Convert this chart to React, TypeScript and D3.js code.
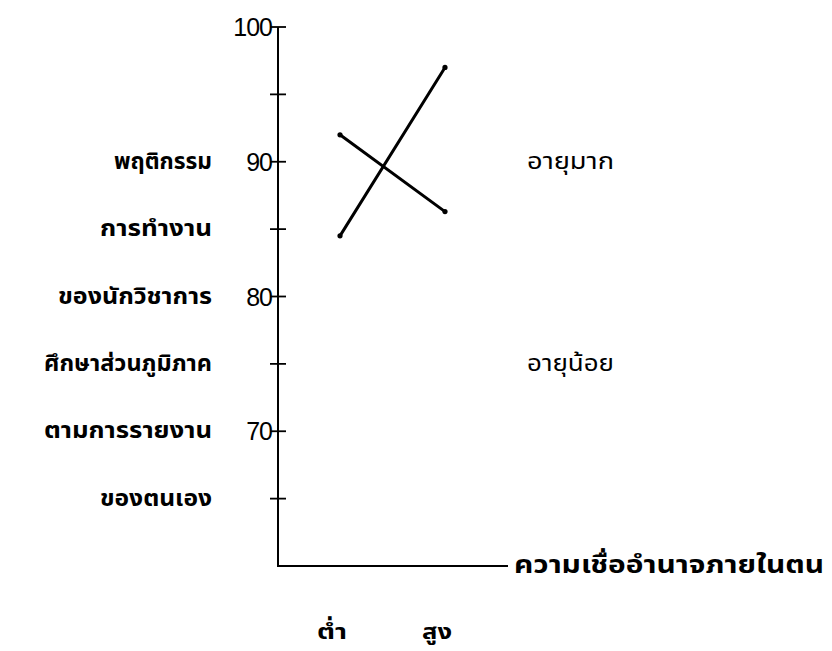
import React from "react";
import * as d3 from "d3";

const categories = ["ต่ำ", "สูง"];
const seriesFalling = [92, 86.3];
const seriesRising = [84.5, 97];
const yTicks = [65, 70, 75, 80, 85, 90, 95, 100];
const yTickLabels = [70, 80, 90, 100];
const leftLabelValues = [90, 85, 80, 75, 70, 65];
const leftLabelTexts = [
  "พฤติกรรม",
  "การทำงาน",
  "ของนักวิชาการ",
  "ศึกษาส่วนภูมิภาค",
  "ตามการรายงาน",
  "ของตนเอง",
];
const rightLabelValues = [90, 75];
const rightLabelTexts = ["อายุมาก", "อายุน้อย"];
const xAxisTitle = "ความเชื่ออำนาจภายในตน";

const W = 832;
const H = 651;
const axisX = 278;
const axisBottomY = 566;
const axisEndX = 508;

// typewriter-like width: count spacing (base) Thai characters
function baseCount(s: string): number {
  let n = 0;
  for (const ch of s) {
    const c = ch.codePointAt(0) || 0;
    const combining =
      c === 0x0e31 || (c >= 0x0e34 && c <= 0x0e3a) || (c >= 0x0e47 && c <= 0x0e4e);
    if (!combining) n++;
  }
  return n;
}

export default function App() {
  const y = d3.scaleLinear().domain([60, 100]).range([566, 27]);
  const x = d3.scalePoint<string>().domain(categories).range([340, 445]);
  const line = d3
    .line<number>()
    .x((_, i) => x(categories[i]) as number)
    .y((d) => y(d));
  const thaiFont = "'Noto Sans Thai', 'Noto Sans', 'DejaVu Sans', sans-serif";
  const series = [seriesFalling, seriesRising];
  const charW = 14;
  return (
    <svg
      width={W}
      height={H}
      style={{ position: "absolute", left: 0, top: 0, background: "#fff" }}
    >
      <rect x={0} y={0} width={W} height={H} fill="#fff" />
      <line x1={axisX} y1={y(100)} x2={axisX} y2={axisBottomY} stroke="#000" strokeWidth={2} />
      <line x1={axisX - 1} y1={axisBottomY} x2={axisEndX} y2={axisBottomY} stroke="#000" strokeWidth={2} />
      {yTicks.map((t) => (
        <line
          key={t}
          x1={axisX - 8}
          x2={axisX + 8}
          y1={y(t)}
          y2={y(t)}
          stroke="#000"
          strokeWidth={1.8}
        />
      ))}
      {yTickLabels.map((t) => (
        <text
          key={t}
          x={axisX - 6}
          y={y(t)}
          textAnchor="end"
          dominantBaseline="central"
          fontFamily="'Liberation Sans', Arial, sans-serif"
          fontSize={25}
          letterSpacing={-1}
          fill="#000"
        >
          {t}
        </text>
      ))}
      {leftLabelTexts.map((t, i) => (
        <text
          key={t}
          x={212}
          y={y(leftLabelValues[i])}
          textAnchor="end"
          dominantBaseline="central"
          fontFamily={thaiFont}
          fontWeight="bold"
          fontSize={23}
          textLength={baseCount(t) * charW}
          lengthAdjust="spacingAndGlyphs"
          fill="#000"
        >
          {t}
        </text>
      ))}
      {rightLabelTexts.map((t, i) => (
        <text
          key={t}
          x={527}
          y={y(rightLabelValues[i])}
          textAnchor="start"
          dominantBaseline="central"
          fontFamily={thaiFont}
          fontSize={23}
          textLength={baseCount(t) * 14.5}
          lengthAdjust="spacingAndGlyphs"
          fill="#000"
        >
          {t}
        </text>
      ))}
      <text
        x={514}
        y={axisBottomY}
        dominantBaseline="central"
        fontFamily={thaiFont}
        fontWeight="bold"
        fontSize={24}
        textLength={310}
        lengthAdjust="spacingAndGlyphs"
        fill="#000"
      >
        {xAxisTitle}
      </text>
      {categories.map((c) => (
        <text
          key={c}
          x={(x(c) as number) - 8}
          y={632}
          textAnchor="middle"
          dominantBaseline="central"
          fontFamily={thaiFont}
          fontWeight="bold"
          fontSize={22}
          textLength={30}
          lengthAdjust="spacingAndGlyphs"
          fill="#000"
        >
          {c}
        </text>
      ))}
      {series.map((s, i) => (
        <g key={i}>
          <path d={line(s) || ""} fill="none" stroke="#000" strokeWidth={3} strokeLinecap="round" />
          {s.map((v, j) => (
            <circle key={j} cx={x(categories[j]) as number} cy={y(v)} r={2.6} fill="#000" />
          ))}
        </g>
      ))}
    </svg>
  );
}
